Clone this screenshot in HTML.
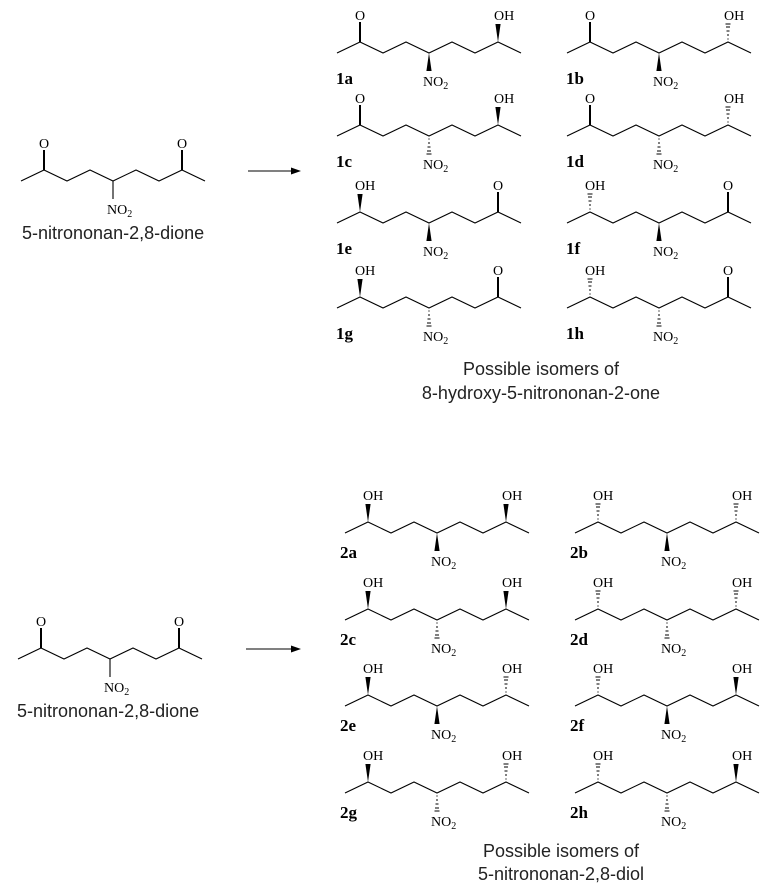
<!DOCTYPE html>
<html><head><meta charset="utf-8"><style>
html,body{margin:0;padding:0;background:#fff;}
svg{display:block;}
.t{font-family:"Liberation Serif",serif;font-size:14px;fill:#000;}
.l{font-family:"Liberation Serif",serif;font-size:17px;font-weight:bold;fill:#000;}
.n{font-family:"Liberation Sans",sans-serif;font-size:18px;fill:#222;}
</style></head><body>
<svg width="775" height="894" viewBox="0 0 775 894" xmlns="http://www.w3.org/2000/svg">
<defs>
<polyline id="chain" points="0,11 23,0 46,11 69,0 92,11 115,0 138,11 161,0 184,11" fill="none" stroke="#000" stroke-width="1.1"/>
<polygon id="wu" points="0,0 -2.6,-18 2.6,-18" fill="#000"/>
<g id="hu" stroke="#000" stroke-width="1"><line x1="-0.6" y1="-3" x2="0.6" y2="-3"/><line x1="-1" y1="-7" x2="1" y2="-7"/><line x1="-1.5" y1="-11" x2="1.5" y2="-11"/><line x1="-2" y1="-15" x2="2" y2="-15"/><line x1="-2.5" y1="-18" x2="2.5" y2="-18"/></g>
<line id="ko" x1="0" y1="0" x2="0" y2="-20" stroke="#000" stroke-width="2"/>
<polygon id="wd" points="0,0 -2.6,18 2.6,18" fill="#000"/>
<g id="hd" stroke="#000" stroke-width="1"><line x1="-0.6" y1="3" x2="0.6" y2="3"/><line x1="-1" y1="7" x2="1" y2="7"/><line x1="-1.5" y1="11" x2="1.5" y2="11"/><line x1="-2" y1="15" x2="2" y2="15"/><line x1="-2.5" y1="18" x2="2.5" y2="18"/></g>
<line id="pd" x1="0" y1="0" x2="0" y2="18" stroke="#000" stroke-width="1.1"/>
</defs>

<!-- starting material 1 -->
<g transform="translate(21,170)">
<use href="#chain"/><use href="#ko" x="23"/><use href="#ko" x="161"/><use href="#pd" x="92" y="11"/>
<text class="t" x="23" y="-22" text-anchor="middle">O</text>
<text class="t" x="161" y="-22" text-anchor="middle">O</text>
<text class="t" x="86" y="44">NO<tspan font-size="10" dy="3">2</tspan></text>
</g>
<text class="n" x="22" y="239">5-nitrononan-2,8-dione</text>
<line x1="248" y1="171" x2="294" y2="171" stroke="#000" stroke-width="1.1"/><polygon points="301,171 291,167.5 291,174.5" fill="#000"/>

<!-- starting material 2 -->
<g transform="translate(18,648)">
<use href="#chain"/><use href="#ko" x="23"/><use href="#ko" x="161"/><use href="#pd" x="92" y="11"/>
<text class="t" x="23" y="-22" text-anchor="middle">O</text>
<text class="t" x="161" y="-22" text-anchor="middle">O</text>
<text class="t" x="86" y="44">NO<tspan font-size="10" dy="3">2</tspan></text>
</g>
<text class="n" x="17" y="717">5-nitrononan-2,8-dione</text>
<line x1="246" y1="649" x2="294" y2="649" stroke="#000" stroke-width="1.1"/><polygon points="301,649 291,645.5 291,652.5" fill="#000"/>

<!-- series 1: ketone left -->
<g transform="translate(337,42)"><use href="#chain"/><use href="#ko" x="23"/><use href="#wu" x="161"/><use href="#wd" x="92" y="11"/>
<text class="t" x="23" y="-22" text-anchor="middle">O</text><text class="t" x="157" y="-22">OH</text><text class="t" x="86" y="44">NO<tspan font-size="10" dy="3">2</tspan></text><text class="l" x="-1" y="42">1a</text></g>
<g transform="translate(567,42)"><use href="#chain"/><use href="#ko" x="23"/><use href="#hu" x="161"/><use href="#wd" x="92" y="11"/>
<text class="t" x="23" y="-22" text-anchor="middle">O</text><text class="t" x="157" y="-22">OH</text><text class="t" x="86" y="44">NO<tspan font-size="10" dy="3">2</tspan></text><text class="l" x="-1" y="42">1b</text></g>
<g transform="translate(337,125)"><use href="#chain"/><use href="#ko" x="23"/><use href="#wu" x="161"/><use href="#hd" x="92" y="11"/>
<text class="t" x="23" y="-22" text-anchor="middle">O</text><text class="t" x="157" y="-22">OH</text><text class="t" x="86" y="44">NO<tspan font-size="10" dy="3">2</tspan></text><text class="l" x="-1" y="42">1c</text></g>
<g transform="translate(567,125)"><use href="#chain"/><use href="#ko" x="23"/><use href="#hu" x="161"/><use href="#hd" x="92" y="11"/>
<text class="t" x="23" y="-22" text-anchor="middle">O</text><text class="t" x="157" y="-22">OH</text><text class="t" x="86" y="44">NO<tspan font-size="10" dy="3">2</tspan></text><text class="l" x="-1" y="42">1d</text></g>
<!-- ketone right -->
<g transform="translate(337,212)"><use href="#chain"/><use href="#wu" x="23"/><use href="#ko" x="161"/><use href="#wd" x="92" y="11"/>
<text class="t" x="18" y="-22">OH</text><text class="t" x="161" y="-22" text-anchor="middle">O</text><text class="t" x="86" y="44">NO<tspan font-size="10" dy="3">2</tspan></text><text class="l" x="-1" y="42">1e</text></g>
<g transform="translate(567,212)"><use href="#chain"/><use href="#hu" x="23"/><use href="#ko" x="161"/><use href="#wd" x="92" y="11"/>
<text class="t" x="18" y="-22">OH</text><text class="t" x="161" y="-22" text-anchor="middle">O</text><text class="t" x="86" y="44">NO<tspan font-size="10" dy="3">2</tspan></text><text class="l" x="-1" y="42">1f</text></g>
<g transform="translate(337,297)"><use href="#chain"/><use href="#wu" x="23"/><use href="#ko" x="161"/><use href="#hd" x="92" y="11"/>
<text class="t" x="18" y="-22">OH</text><text class="t" x="161" y="-22" text-anchor="middle">O</text><text class="t" x="86" y="44">NO<tspan font-size="10" dy="3">2</tspan></text><text class="l" x="-1" y="42">1g</text></g>
<g transform="translate(567,297)"><use href="#chain"/><use href="#hu" x="23"/><use href="#ko" x="161"/><use href="#hd" x="92" y="11"/>
<text class="t" x="18" y="-22">OH</text><text class="t" x="161" y="-22" text-anchor="middle">O</text><text class="t" x="86" y="44">NO<tspan font-size="10" dy="3">2</tspan></text><text class="l" x="-1" y="42">1h</text></g>
<text class="n" x="541" y="375" text-anchor="middle">Possible isomers of</text>
<text class="n" x="541" y="399" text-anchor="middle">8-hydroxy-5-nitrononan-2-one</text>

<!-- series 2 -->
<g transform="translate(345,522)"><use href="#chain"/><use href="#wu" x="23"/><use href="#wu" x="161"/><use href="#wd" x="92" y="11"/>
<text class="t" x="18" y="-22">OH</text><text class="t" x="157" y="-22">OH</text><text class="t" x="86" y="44">NO<tspan font-size="10" dy="3">2</tspan></text><text class="l" x="-5" y="36">2a</text></g>
<g transform="translate(575,522)"><use href="#chain"/><use href="#hu" x="23"/><use href="#hu" x="161"/><use href="#wd" x="92" y="11"/>
<text class="t" x="18" y="-22">OH</text><text class="t" x="157" y="-22">OH</text><text class="t" x="86" y="44">NO<tspan font-size="10" dy="3">2</tspan></text><text class="l" x="-5" y="36">2b</text></g>
<g transform="translate(345,609)"><use href="#chain"/><use href="#wu" x="23"/><use href="#wu" x="161"/><use href="#hd" x="92" y="11"/>
<text class="t" x="18" y="-22">OH</text><text class="t" x="157" y="-22">OH</text><text class="t" x="86" y="44">NO<tspan font-size="10" dy="3">2</tspan></text><text class="l" x="-5" y="36">2c</text></g>
<g transform="translate(575,609)"><use href="#chain"/><use href="#hu" x="23"/><use href="#hu" x="161"/><use href="#hd" x="92" y="11"/>
<text class="t" x="18" y="-22">OH</text><text class="t" x="157" y="-22">OH</text><text class="t" x="86" y="44">NO<tspan font-size="10" dy="3">2</tspan></text><text class="l" x="-5" y="36">2d</text></g>
<g transform="translate(345,695)"><use href="#chain"/><use href="#wu" x="23"/><use href="#hu" x="161"/><use href="#wd" x="92" y="11"/>
<text class="t" x="18" y="-22">OH</text><text class="t" x="157" y="-22">OH</text><text class="t" x="86" y="44">NO<tspan font-size="10" dy="3">2</tspan></text><text class="l" x="-5" y="36">2e</text></g>
<g transform="translate(575,695)"><use href="#chain"/><use href="#hu" x="23"/><use href="#wu" x="161"/><use href="#wd" x="92" y="11"/>
<text class="t" x="18" y="-22">OH</text><text class="t" x="157" y="-22">OH</text><text class="t" x="86" y="44">NO<tspan font-size="10" dy="3">2</tspan></text><text class="l" x="-5" y="36">2f</text></g>
<g transform="translate(345,782)"><use href="#chain"/><use href="#wu" x="23"/><use href="#hu" x="161"/><use href="#hd" x="92" y="11"/>
<text class="t" x="18" y="-22">OH</text><text class="t" x="157" y="-22">OH</text><text class="t" x="86" y="44">NO<tspan font-size="10" dy="3">2</tspan></text><text class="l" x="-5" y="36">2g</text></g>
<g transform="translate(575,782)"><use href="#chain"/><use href="#hu" x="23"/><use href="#wu" x="161"/><use href="#hd" x="92" y="11"/>
<text class="t" x="18" y="-22">OH</text><text class="t" x="157" y="-22">OH</text><text class="t" x="86" y="44">NO<tspan font-size="10" dy="3">2</tspan></text><text class="l" x="-5" y="36">2h</text></g>
<text class="n" x="561" y="857" text-anchor="middle">Possible isomers of</text>
<text class="n" x="561" y="880" text-anchor="middle">5-nitrononan-2,8-diol</text>
</svg>
</body></html>
